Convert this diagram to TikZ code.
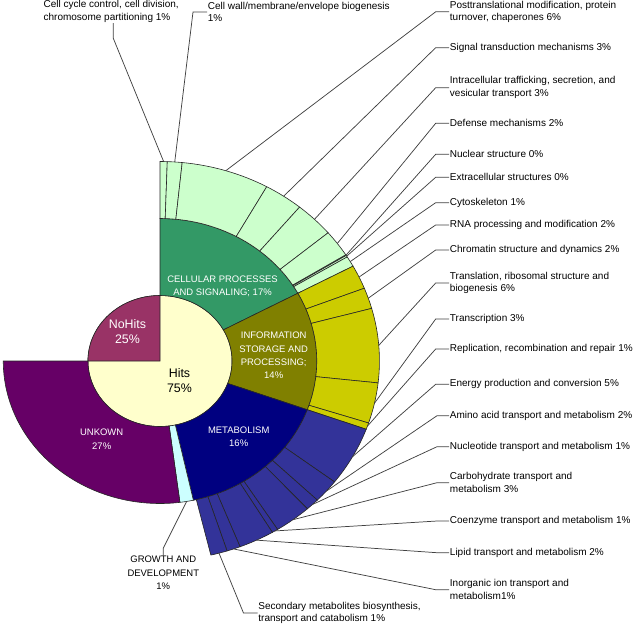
\documentclass[tikz,border=0pt]{standalone}
\usepackage{fontspec}
\setmainfont{Liberation Sans}
\definecolor{hitsYellow}{HTML}{FFFFCC}
\definecolor{noHitsPlum}{HTML}{993366}
\definecolor{cellGreen}{HTML}{339966}
\definecolor{cellLight}{HTML}{CCFFCC}
\definecolor{infoOlive}{HTML}{808000}
\definecolor{infoYellow}{HTML}{CCCC00}
\definecolor{metaNavy}{HTML}{000080}
\definecolor{metaBlue}{HTML}{333399}
\definecolor{growthCyan}{HTML}{CCFFFF}
\definecolor{unknownPurple}{HTML}{660066}
% ring segment: colour, start angle, end angle, inner radius, outer radius
\newcommand{\ringseg}[5]{%
  \filldraw[seg, fill=#1] (#2:#4) arc[start angle=#2, end angle=#3, radius=#4]
    -- (#3:#5) arc[start angle=#3, end angle=#2, radius=#5] -- cycle;}

\begin{document}
\begin{tikzpicture}[x=0.75pt, y=-0.75pt,
    seg/.style={draw=black!85, line width=0.45pt},
    leader/.style={draw=black!75, line width=0.55pt},
    lbl/.style={anchor=west, align=left, inner sep=0.5pt, font=\fontsize{7.5}{9.45}\selectfont},
    catlbl/.style={align=center, inner sep=0pt, text=white, font=\fontsize{7.1}{10}\selectfont},
    big/.style={align=center, inner sep=0pt, font=\fontsize{9.3}{11.2}\selectfont}]
  \useasboundingbox (0,0) rectangle (638,626);

  \begin{scope}[shift={(160,361)}, xscale=1.1, yscale=-1]
    % inner pie
    \filldraw[seg, fill=hitsYellow] (0,0) circle[radius=65.5];
    \filldraw[seg, fill=noHitsPlum] (0,0) -- (90:65.5) arc[start angle=90, end angle=180, radius=65.5] -- cycle;
    % main categories
    \ringseg{cellGreen}{90}{28.4}{65.5}{142.5}
    \ringseg{infoOlive}{28.4}{-20}{65.5}{142.5}
    \ringseg{metaNavy}{-20}{-77.7}{65.5}{142.5}
    \ringseg{growthCyan}{-77.7}{-82.7}{65.5}{142.5}
    \ringseg{unknownPurple}{-82.7}{-180}{65.5}{142.5}
    % cellular processes and signaling
    \ringseg{cellLight}{90}{88.1}{142.5}{199.5}
    \ringseg{cellLight}{88.1}{84.2}{142.5}{199.5}
    \ringseg{cellLight}{84.2}{60.9}{142.5}{199.5}
    \ringseg{cellLight}{60.9}{50.5}{142.5}{199.5}
    \ringseg{cellLight}{50.5}{40}{142.5}{199.5}
    \ringseg{cellLight}{40}{32.15}{142.5}{199.5}
    \ringseg{cellLight}{32.15}{31.95}{142.5}{199.5}
    \ringseg{cellLight}{31.95}{31.45}{142.5}{199.5}
    \ringseg{cellLight}{31.45}{28.4}{142.5}{199.5}
    % information storage and processing
    \ringseg{infoYellow}{28.4}{21.4}{142.5}{199.5}
    \ringseg{infoYellow}{21.4}{15.3}{142.5}{199.5}
    \ringseg{infoYellow}{15.3}{-6.3}{142.5}{199.5}
    \ringseg{infoYellow}{-6.3}{-18.1}{142.5}{199.5}
    \ringseg{infoYellow}{-18.1}{-20}{142.5}{199.5}
    % metabolism
    \ringseg{metaBlue}{-20}{-37.3}{142.5}{199.5}
    \ringseg{metaBlue}{-37.3}{-44.2}{142.5}{199.5}
    \ringseg{metaBlue}{-44.2}{-47.8}{142.5}{199.5}
    \ringseg{metaBlue}{-47.8}{-57.6}{142.5}{199.5}
    \ringseg{metaBlue}{-57.6}{-59.2}{142.5}{199.5}
    \ringseg{metaBlue}{-59.2}{-68.6}{142.5}{199.5}
    \ringseg{metaBlue}{-68.6}{-72.2}{142.5}{199.5}
    \ringseg{metaBlue}{-72.2}{-76.6}{142.5}{199.5}
    % leader anchors
    \coordinate (pCycle) at (89.05:199.5);
    \coordinate (pWall) at (86.15:199.5);
    \coordinate (pPost) at (72.55:199.5);
    \coordinate (pSignal) at (55.7:199.5);
    \coordinate (pIntra) at (45.25:199.5);
    \coordinate (pDefense) at (36.1:199.5);
    \coordinate (pNuclear) at (32.05:199.5);
    \coordinate (pExtra) at (31.7:199.5);
    \coordinate (pCyto) at (29.9:199.5);
    \coordinate (pRna) at (24.9:199.5);
    \coordinate (pChrom) at (18.35:199.5);
    \coordinate (pTransl) at (4.5:199.5);
    \coordinate (pTranscr) at (-12.2:199.5);
    \coordinate (pRepl) at (-19.05:199.5);
    \coordinate (pEnergy) at (-28.65:199.5);
    \coordinate (pAmino) at (-40.75:199.5);
    \coordinate (pNucleo) at (-46:199.5);
    \coordinate (pCarbo) at (-52.7:199.5);
    \coordinate (pCoenz) at (-58.4:199.5);
    \coordinate (pLipid) at (-63.9:199.5);
    \coordinate (pInorg) at (-70.4:199.5);
    \coordinate (pSec) at (-74.4:199.5);
    \coordinate (pGrowth) at (-80.2:142.5);
  \end{scope}

  % labels inside the chart
  \node[big, text=white] (cNoHits) at (127.5,331.5) {NoHits\\25\%};
  \node[big] (cHits) at (179.5,380.5) {Hits\\75\%};
  \node[catlbl] (cCell) at (222.5,286) {CELLULAR PROCESSES\\AND SIGNALING; 17\%};
  \node[catlbl] (cInfo) at (273.7,355.5) {INFORMATION\\STORAGE AND\\PROCESSING;\\14\%};
  \node[catlbl] (cMeta) at (238.7,436.7) {METABOLISM\\16\%};
  \node[catlbl] (cUnknown) at (101.7,439.3) {UNKOWN\\27\%};

  % labels outside the chart
  \node[lbl] (lbCycle) at (42.7,11.2) {Cell cycle control, cell division,\\chromosome partitioning 1\%};
  \node[lbl] (lbWall) at (207,12) {Cell wall/membrane/envelope biogenesis\\1\%};
  \node[lbl] (lbPost) at (449,11.8) {Posttranslational modification, protein\\turnover, chaperones 6\%};
  \node[lbl] (lbSignal) at (449,47.7) {Signal transduction mechanisms 3\%};
  \node[lbl] (lbIntra) at (449,87.7) {Intracellular trafficking, secretion, and\\vesicular transport 3\%};
  \node[lbl] (lbDefense) at (449,123.3) {Defense mechanisms 2\%};
  \node[lbl] (lbNuclear) at (449,154.3) {Nuclear structure 0\%};
  \node[lbl] (lbExtra) at (449,177.3) {Extracellular structures 0\%};
  \node[lbl] (lbCyto) at (449,202.7) {Cytoskeleton 1\%};
  \node[lbl] (lbRna) at (449,225) {RNA processing and modification 2\%};
  \node[lbl] (lbChrom) at (449,250) {Chromatin structure and dynamics 2\%};
  \node[lbl] (lbTransl) at (449,283) {Translation, ribosomal structure and\\biogenesis 6\%};
  \node[lbl] (lbTranscr) at (449,319) {Transcription 3\%};
  \node[lbl] (lbRepl) at (449,349) {Replication, recombination and repair 1\%};
  \node[lbl] (lbEnergy) at (449,384.3) {Energy production and conversion 5\%};
  \node[lbl] (lbAmino) at (449,415.7) {Amino acid transport and metabolism 2\%};
  \node[lbl] (lbNucleo) at (449,446.7) {Nucleotide transport and metabolism 1\%};
  \node[lbl] (lbCarbo) at (449,482.7) {Carbohydrate transport and\\metabolism 3\%};
  \node[lbl] (lbCoenz) at (449,521) {Coenzyme transport and metabolism 1\%};
  \node[lbl] (lbLipid) at (449,552.7) {Lipid transport and metabolism 2\%};
  \node[lbl] (lbInorg) at (449,589.7) {Inorganic ion transport and\\metabolism1\%};
  \node[lbl] (lbSec) at (257.5,613) {Secondary metabolites biosynthesis,\\transport and catabolism 1\%};
  \node[catlbl, text=black] (lbGrowth) at (163.3,573) {GROWTH AND\\DEVELOPMENT\\1\%};

  % leader lines
  \coordinate (eCycle) at (113.3,38.3);
  \draw[leader] (pCycle) -- (eCycle) -- (eCycle |- lbCycle.south);
  \draw[leader] (pWall) -- ([xshift=-10.5pt]lbWall.west) -- (lbWall.west);
  \draw[leader] (pPost) -- ([xshift=-10pt]lbPost.west) -- (lbPost.west);
  \draw[leader] (pSignal) -- ([xshift=-10pt]lbSignal.west) -- (lbSignal.west);
  \draw[leader] (pIntra) -- ([xshift=-10pt]lbIntra.west) -- (lbIntra.west);
  \draw[leader] (pDefense) -- ([xshift=-10pt]lbDefense.west) -- (lbDefense.west);
  \draw[leader] (pNuclear) -- ([xshift=-10pt]lbNuclear.west) -- (lbNuclear.west);
  \draw[leader] (pExtra) -- ([xshift=-10pt]lbExtra.west) -- (lbExtra.west);
  \draw[leader] (pCyto) -- ([xshift=-10pt]lbCyto.west) -- (lbCyto.west);
  \draw[leader] (pRna) -- ([xshift=-10pt]lbRna.west) -- (lbRna.west);
  \draw[leader] (pChrom) -- ([xshift=-10pt]lbChrom.west) -- (lbChrom.west);
  \draw[leader] (pTransl) -- ([xshift=-10pt]lbTransl.west) -- (lbTransl.west);
  \draw[leader] (pTranscr) -- ([xshift=-10pt]lbTranscr.west) -- (lbTranscr.west);
  \draw[leader] (pRepl) -- ([xshift=-10pt]lbRepl.west) -- (lbRepl.west);
  \draw[leader] (pEnergy) -- ([xshift=-10pt]lbEnergy.west) -- (lbEnergy.west);
  \draw[leader] (pAmino) -- ([xshift=-9pt]lbAmino.west) -- (lbAmino.west);
  \draw[leader] (pNucleo) -- ([xshift=-9pt]lbNucleo.west) -- (lbNucleo.west);
  \draw[leader] (pCarbo) -- ([xshift=-9pt]lbCarbo.west) -- (lbCarbo.west);
  \draw[leader] (pCoenz) -- ([xshift=-9pt]lbCoenz.west) -- (lbCoenz.west);
  \draw[leader] (pLipid) -- ([xshift=-9pt]lbLipid.west) -- (lbLipid.west);
  \draw[leader] (pInorg) -- ([xshift=-10pt]lbInorg.west) -- (lbInorg.west);
  \draw[leader] (pSec) -- ([xshift=-10.5pt]lbSec.west) -- (lbSec.west);
  \draw[leader] (pGrowth) -- ([yshift=6pt]lbGrowth.north) -- (lbGrowth.north);
\end{tikzpicture}
\end{document}
